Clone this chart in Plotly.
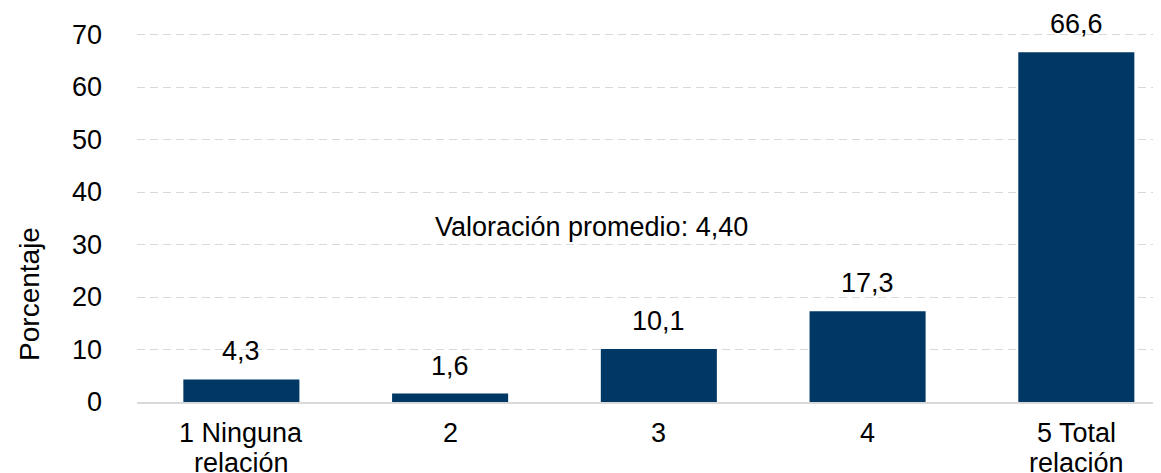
import plotly.graph_objects as go

categories = ["1 Ninguna<br>relación", "2", "3", "4", "5 Total<br>relación"]
values = [4.3, 1.6, 10.1, 17.3, 66.6]
y_ticks = [0, 10, 20, 30, 40, 50, 60, 70]
note = "Valoración promedio: 4,40"
y_title = "Porcentaje"

FONT = "Liberation Sans, Arial, sans-serif"
FS = 27
BAR = "#003865"
BLACK = "#000000"

fig = go.Figure(go.Bar(
    x=categories, y=values,
    marker=dict(color=BAR, line=dict(width=0)),
    hoverinfo="x+y",
))

# value labels above the bars (x given as category index)
for i, val in enumerate(values):
    fig.add_annotation(x=i, y=val, xref="x", yref="y", text=f"{val:.1f}".replace(".", ","),
                       showarrow=False, yanchor="bottom", yshift=11,
                       font=dict(family=FONT, size=FS, color=BLACK))

# category labels (two lines each, tight line spacing)
for i, cat in enumerate(categories):
    for j, line in enumerate(cat.split("<br>")):
        fig.add_annotation(x=i, y=0, xref="x", yref="paper", text=line, showarrow=False,
                           yanchor="middle", yshift=-31 - 30 * j,
                           font=dict(family=FONT, size=FS, color=BLACK))

fig.add_annotation(x=1.675, y=33.4, xref="x", yref="y", text=note, showarrow=False,
                   font=dict(family=FONT, size=FS, color=BLACK))
fig.add_annotation(x=-0.104, y=0.285, xref="paper", yref="paper", text=y_title,
                   textangle=-90, showarrow=False, xanchor="center", yanchor="middle",
                   font=dict(family=FONT, size=FS + 1, color=BLACK))

fig.update_layout(
    width=1161, height=473,
    margin=dict(l=129, r=0, t=16, b=79, autoexpand=False),
    plot_bgcolor="white", paper_bgcolor="white",
    separators=",.",
    bargap=0.444,
    showlegend=False,
    font=dict(family=FONT, size=FS, color=BLACK),
)
fig.update_xaxes(
    range=[-0.5, 4.444], showgrid=False, showline=True, linecolor="#d9d9d9", linewidth=2,
    showticklabels=False, ticks="", automargin=False,
)
fig.update_yaxes(
    range=[0, 72], tickvals=y_ticks, showgrid=True, gridcolor="#d9d9d9", griddash="8px,5px",
    gridwidth=1, zeroline=False, showline=False,
    tickfont=dict(family=FONT, size=FS, color=BLACK), ticklabelstandoff=34,
    automargin=False,
)

fig.write_html("out.html")
